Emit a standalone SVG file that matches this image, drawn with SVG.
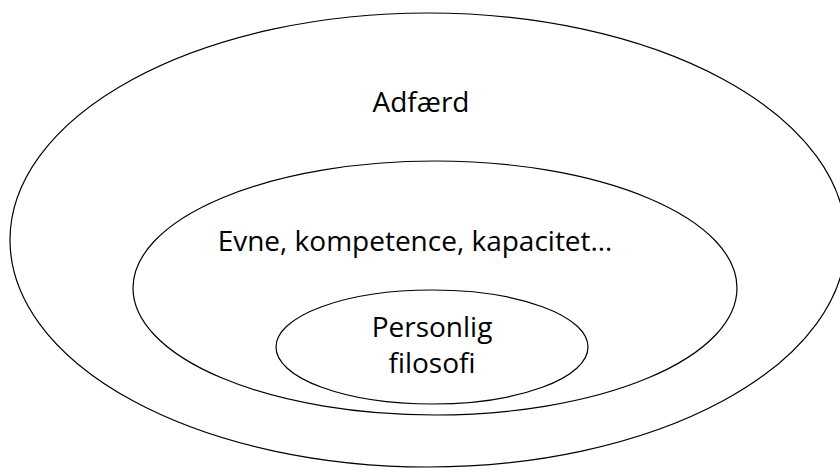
<svg xmlns="http://www.w3.org/2000/svg" width="840" height="476" viewBox="0 0 840 476">
<style>
.e{fill:none;stroke:#000;stroke-width:1.2}
.t{font-family:"Open Sans","Liberation Sans",sans-serif;font-size:28px;fill:#000;text-anchor:middle}
</style>
<rect width="840" height="476" fill="#fff"/>
<g id="outer"><ellipse class="e" cx="428" cy="240" rx="418" ry="227"/><text class="t" x="421" y="112">Adfærd</text></g>
<g id="middle"><ellipse class="e" cx="435" cy="288" rx="302" ry="127"/><text class="t" x="415" y="251">Evne, kompetence, kapacitet…</text></g>
<g id="inner"><ellipse class="e" cx="432" cy="347" rx="156" ry="57"/><text class="t" x="432" y="337">Personlig</text><text class="t" x="432" y="373">filosofi</text></g>
<g id="connectors"/>
</svg>
